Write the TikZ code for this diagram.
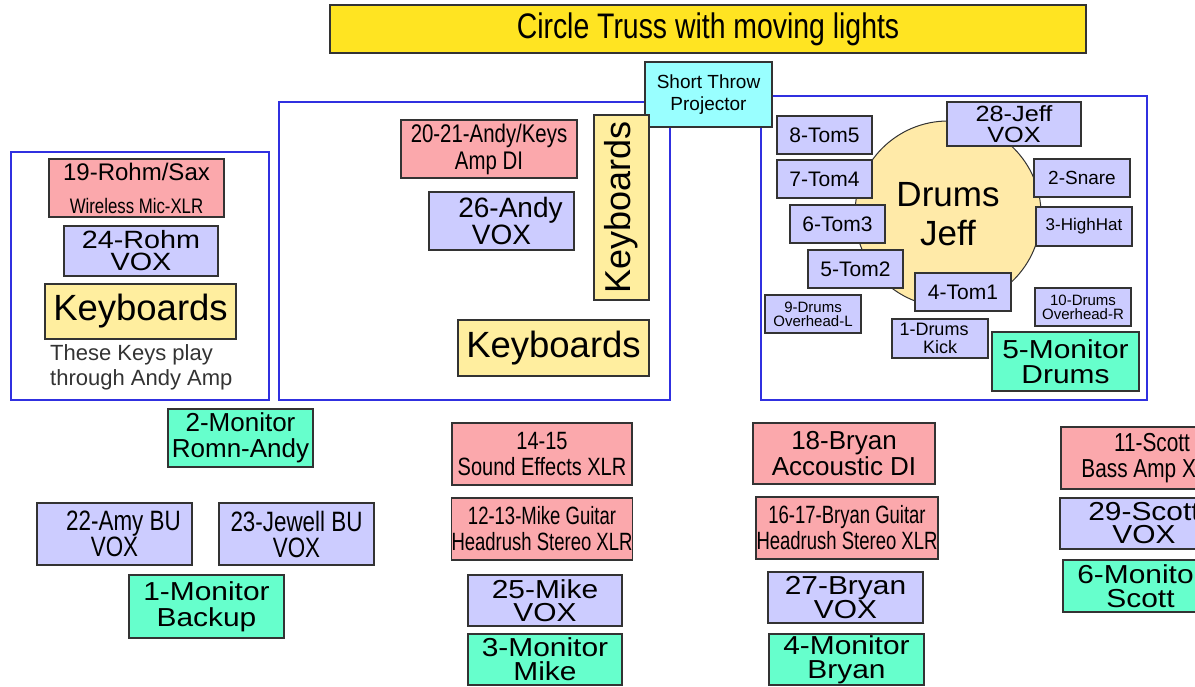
\documentclass[tikz,border=0pt]{standalone}
\usepackage{fontspec}
\setmainfont{Liberation Sans}
\newfontfamily\narrowfont[FakeStretch=0.8]{Liberation Sans}
\newfontfamily\condfont[FakeStretch=0.74]{Liberation Sans}
\newfontfamily\widefont[FakeStretch=1.15]{Liberation Sans}
\newcommand\fsz[2]{\fontsize{#1}{#2}\selectfont}

\definecolor{titlec}{HTML}{FFE422}
\definecolor{pinkc}{HTML}{FBA8AC}
\definecolor{voxc}{HTML}{CCCCFF}
\definecolor{monc}{HTML}{66FFCC}
\definecolor{keyc}{HTML}{FFEE9F}
\definecolor{drumc}{HTML}{FFEAA8}
\definecolor{projc}{HTML}{99FFFF}
\definecolor{framec}{HTML}{3030E0}

\tikzset{
  box/.style={draw=black!80, line width=1.2pt, inner sep=0pt, align=center},
  pinkbox/.style={box, fill=pinkc},
  voxbox/.style={box, fill=voxc},
  monbox/.style={box, fill=monc},
  keybox/.style={box, fill=keyc},
  stageframe/.style={draw=framec, line width=1.2pt}
}

\begin{document}
\begin{tikzpicture}[x=1pt, y=-1pt]
  \useasboundingbox (0,0) rectangle (1195,687);
  \clip (0,0) rectangle (1195,687);

  % truss and projector
  \node[box, fill=titlec, minimum width=756, minimum height=48, font=\narrowfont\fsz{35.5}{35}] (truss) at (708,29) {Circle Truss with moving lights};

  \draw[stageframe] (11,152) rectangle (269,400);
  \draw[stageframe] (279,102) rectangle (670,400);
  \draw[stageframe] (761,96) rectangle (1147,400);

  \node[box, fill=projc, minimum width=127, minimum height=65, font=\fsz{19}{22}] (proj) at (708.5,94.5) {Short Throw\\Projector};

  % Rohm
  \node[pinkbox, minimum width=175, minimum height=58, font=\fsz{24}{33}] (rohmsax) at (136.5,188) {19-Rohm/Sax\\{\narrowfont\fsz{21}{33}Wireless Mic-XLR}};
  \node[voxbox, minimum width=154, minimum height=50, font=\widefont\fsz{25}{22}] (rohmvox) at (141,251) {24-Rohm\\VOX};
  \node[keybox, minimum width=191, minimum height=55, font=\fsz{36.5}{36}] (keysrohm) at (140.5,311.5) {Keyboards};
  \node[inner sep=0pt, anchor=north west, align=left, text=black!80, font=\fsz{22}{25}] (keysnote) at (50,344) {These Keys play\\through Andy Amp};

  % Andy
  \node[pinkbox, minimum width=176, minimum height=58, font=\narrowfont\fsz{25.5}{27}] (andydi) at (489,149) {20-21-Andy/Keys\\Amp DI};
  \node[voxbox, minimum width=145, minimum height=58, font=\fsz{28}{25}] (andyvox) at (501.5,221) {\hspace*{18pt}26-Andy\\VOX};
  \node[keybox, minimum width=185, minimum height=55, rotate=90, font=\fsz{36}{36}] (keysup) at (621.5,207.5) {Keyboards};
  \node[keybox, minimum width=191, minimum height=56, font=\fsz{36.5}{36}] (keysandy) at (553.5,348) {Keyboards};

  % drums
  \node[circle, draw=black!80, line width=1pt, fill=drumc, minimum size=186, inner sep=0pt, align=center, font=\fsz{35}{39}] (kit) at (948,214) {Drums\\Jeff};
  \node[voxbox, minimum width=134, minimum height=44, font=\widefont\fsz{22}{21}] (jeffvox) at (1014,124) {28-Jeff\\VOX};
  \node[voxbox, minimum width=95, minimum height=38, font=\fsz{21}{21}] (tom5) at (824.5,135) {8-Tom5};
  \node[voxbox, minimum width=95, minimum height=38, font=\fsz{21}{21}] (tom4) at (824.5,179) {7-Tom4};
  \node[voxbox, minimum width=95, minimum height=38, font=\fsz{21}{21}] (tom3) at (837.5,224) {6-Tom3};
  \node[voxbox, minimum width=95, minimum height=38, font=\fsz{21}{21}] (tom2) at (855.5,269) {5-Tom2};
  \node[voxbox, minimum width=96, minimum height=38, font=\fsz{21}{21}] (tom1) at (963,292) {4-Tom1};
  \node[voxbox, minimum width=96, minimum height=38, font=\fsz{19}{19}] (snare) at (1082,178) {2-Snare};
  \node[voxbox, minimum width=96, minimum height=39, font=\fsz{17}{17}] (hihat) at (1084,226.5) {3-HighHat};
  \node[voxbox, minimum width=96, minimum height=38, font=\fsz{15}{14}] (ohleft) at (813,314) {9-Drums\\Overhead-L};
  \node[voxbox, minimum width=96, minimum height=38, font=\fsz{15}{14}] (ohright) at (1083,307) {10-Drums\\Overhead-R};
  \node[voxbox, minimum width=96, minimum height=39, font=\fsz{18}{18}] (kick) at (940,338.5) {1-Drums\hspace*{12pt}\\Kick};
  \node[monbox, minimum width=147, minimum height=59, font=\widefont\fsz{26}{25}] (mondrums) at (1065.5,361.5) {5-Monitor\\Drums};

  % front left
  \node[monbox, minimum width=145, minimum height=58, font=\fsz{26}{26}] (monromn) at (240.5,438) {2-Monitor\\Romn-Andy};
  \node[voxbox, minimum width=155, minimum height=62, font=\narrowfont\fsz{28}{26}] (amyvox) at (114.5,534) {\hspace*{18pt}22-Amy BU\\VOX};
  \node[voxbox, minimum width=155, minimum height=62, font=\narrowfont\fsz{28}{26}] (jewellvox) at (296.5,534) {23-Jewell BU\\VOX};
  \node[monbox, minimum width=155, minimum height=63, font=\widefont\fsz{26}{26}] (monbackup) at (206.5,606.5) {1-Monitor\\Backup};

  % Mike
  \node[pinkbox, minimum width=180, minimum height=62, font=\narrowfont\fsz{25}{26}] (sfx) at (542,454) {14-15\\Sound Effects XLR};
  \node[pinkbox, minimum width=180, minimum height=62, font=\condfont\fsz{25}{26}] (mikegtr) at (542,529) {12-13-Mike Guitar\\Headrush Stereo XLR};
  \node[voxbox, minimum width=154, minimum height=51, font=\widefont\fsz{26}{23}] (mikevox) at (545,600.5) {25-Mike\\VOX};
  \node[monbox, minimum width=154, minimum height=51, font=\widefont\fsz{26}{24}] (monmike) at (545,659.5) {3-Monitor\\Mike};

  % Bryan
  \node[pinkbox, minimum width=182, minimum height=61, font=\fsz{26}{26}] (bryandi) at (844,453.5) {18-Bryan\\Accoustic DI};
  \node[pinkbox, minimum width=182, minimum height=62, font=\condfont\fsz{25}{26}] (bryangtr) at (847,528) {16-17-Bryan Guitar\\Headrush Stereo XLR};
  \node[voxbox, minimum width=155, minimum height=51, font=\widefont\fsz{26}{23}] (bryanvox) at (845.5,597.5) {27-Bryan\\VOX};
  \node[monbox, minimum width=155, minimum height=51, font=\widefont\fsz{26}{24}] (monbryan) at (846.5,659.5) {4-Monitor\\Bryan};

  % Scott
  \node[pinkbox, minimum width=182, minimum height=62, font=\narrowfont\fsz{26}{26}] (scottdi) at (1152,458) {11-Scott\\Bass Amp XLR};
  \node[voxbox, minimum width=168, minimum height=51, font=\widefont\fsz{26}{23}] (scottvox) at (1144,523.5) {29-Scott\\VOX};
  \node[monbox, minimum width=155, minimum height=52, font=\widefont\fsz{26}{24}] (monscott) at (1140.5,586) {6-Monitor\\Scott};
\end{tikzpicture}
\end{document}
